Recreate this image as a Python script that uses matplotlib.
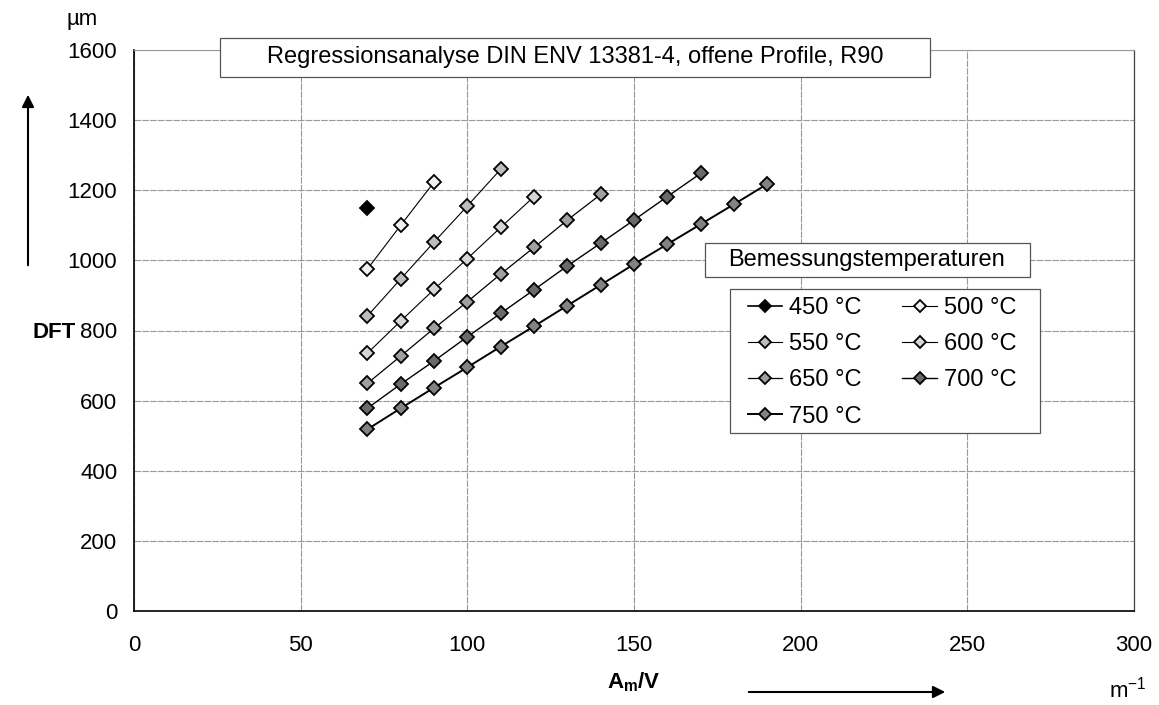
import matplotlib
matplotlib.use("Agg")
import matplotlib.pyplot as plt
from matplotlib.patches import FancyArrowPatch, Rectangle

plt.rcParams['font.family'] = ['Liberation Sans', 'DejaVu Sans']

# ---- data ----
labels = ["450 °C", "500 °C", "550 °C", "600 °C", "650 °C", "700 °C", "750 °C"]
x_450 = [70]
y_450 = [1150]
x_500 = [70, 80, 90]
y_500 = [975, 1100, 1223]
x_550 = [70, 80, 90, 100, 110]
y_550 = [841, 947, 1052, 1155, 1260]
x_600 = [70, 80, 90, 100, 110, 120]
y_600 = [735, 827, 917, 1005, 1094, 1182]
x_650 = [70, 80, 90, 100, 110, 120, 130, 140]
y_650 = [649, 727, 806, 882, 961, 1037, 1115, 1188]
x_700 = [70, 80, 90, 100, 110, 120, 130, 140, 150, 160, 170]
y_700 = [578, 647, 713, 782, 849, 916, 984, 1049, 1115, 1182, 1248]
x_750 = [70, 80, 90, 100, 110, 120, 130, 140, 150, 160, 170, 180, 190]
y_750 = [518, 578, 637, 695, 754, 812, 871, 930, 989, 1046, 1103, 1160, 1218]
x_ticks = [0, 50, 100, 150, 200, 250, 300]
y_ticks = [0, 200, 400, 600, 800, 1000, 1200, 1400, 1600]

series = [(x_450, y_450), (x_500, y_500), (x_550, y_550), (x_600, y_600),
          (x_650, y_650), (x_700, y_700), (x_750, y_750)]
faces = ['#000000', '#f0f0f0', '#bdbdbd', '#d6d6d6', '#a0a0a0', '#6a6a6a', '#828282']
lws = [1.2, 0.8, 0.8, 0.8, 0.9, 1.0, 1.4]

W, H = 1159, 705
fig = plt.figure(figsize=(W / 100, H / 100), dpi=100)
ax = fig.add_axes([134 / W, (H - 611) / H, 1000 / W, 561 / H])

handles = []
for (xs, ys), lab, fc, lw in zip(series, labels, faces, lws):
    h, = ax.plot(xs, ys, '-', color='black', lw=lw, marker='D', markersize=7.5,
                 markerfacecolor=fc, markeredgecolor='black', markeredgewidth=1.3,
                 label=lab, zorder=3)
    handles.append(h)

ax.set_xlim(0, 300)
ax.set_ylim(0, 1600)
ax.set_xticks(x_ticks)
ax.set_yticks(y_ticks)
ax.set_xticklabels([str(v) for v in x_ticks], fontsize=16)
ax.set_yticklabels([str(v) for v in y_ticks], fontsize=16)
ax.tick_params(length=0, pad=12)
ax.tick_params(axis='x', pad=17)
ax.grid(True, color='#999999', lw=0.8, linestyle=(0, (6, 1)))
ax.set_axisbelow(True)
for s in ['left', 'bottom']:
    ax.spines[s].set_color('black')
    ax.spines[s].set_linewidth(1.2)
ax.spines['right'].set_color('#444444')
ax.spines['right'].set_linewidth(0.9)
ax.spines['top'].set_color('#999999')
ax.spines['top'].set_linewidth(0.8)
ax.spines['top'].set_linestyle((0, (6, 1)))


def fig_rect(x0, y0, x1, y1, z=5):
    r = Rectangle((x0 / W, 1 - y1 / H), (x1 - x0) / W, (y1 - y0) / H,
                  transform=fig.transFigure, fc='white', ec='#555555', lw=0.9, zorder=z)
    fig.patches.append(r)


# title box
fig_rect(220, 38, 930, 77)
fig.text(575 / W, 1 - 57.5 / H, "Regressionsanalyse DIN ENV 13381-4, offene Profile, R90",
         ha='center', va='center', fontsize=17, zorder=6)

# legend title box
fig_rect(705, 243, 1030, 277)
fig.text(867 / W, 1 - 260 / H, "Bemessungstemperaturen", ha='center', va='center',
         fontsize=17, zorder=6)

# legend frame + legend (row-wise order)
fig_rect(730, 289, 1040, 433)
order = [0, 2, 4, 6, 1, 3, 5]
leg = fig.legend([handles[i] for i in order], [labels[i] for i in order],
                 loc='upper left', bbox_to_anchor=(748 / W, 1 - 297 / H),
                 bbox_transform=fig.transFigure, ncol=2, fontsize=17,
                 frameon=False, handlelength=1.45, handletextpad=0.3,
                 columnspacing=1.72, labelspacing=0.6, borderpad=0.0,
                 borderaxespad=0.0, markerscale=0.8)
leg.set_zorder(7)

# axis labels
fig.text(82 / W, 1 - 20 / H, "µm", ha='center', va='center', fontsize=16)
fig.text(54 / W, 1 - 332 / H, "DFT", ha='center', va='center', fontsize=16, fontweight='bold')
fig.text(634 / W, 1 - 682 / H, r"A$_\mathregular{m}$/V", ha='center', va='center',
         fontsize=16, fontweight='bold')
fig.text(1128 / W, 1 - 690 / H, r"m$^\mathregular{-1}$", ha='center', va='center', fontsize=16)

# arrows
fig.patches.append(FancyArrowPatch((28 / W, 1 - 268 / H), (28 / W, 1 - 92 / H),
                                   transform=fig.transFigure, arrowstyle='-|>',
                                   mutation_scale=18, color='black', lw=1.5))
fig.patches.append(FancyArrowPatch((746 / W, 1 - 692 / H), (948 / W, 1 - 692 / H),
                                   transform=fig.transFigure, arrowstyle='-|>',
                                   mutation_scale=18, color='black', lw=1.5))

fig.savefig("out.png", dpi=100)
